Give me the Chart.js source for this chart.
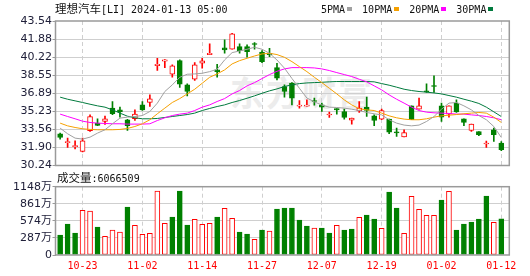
<!DOCTYPE html>
<html>
<head>
<meta charset="utf-8">
<script src="https://cdn.jsdelivr.net/npm/chart.js@4.4.1/dist/chart.umd.min.js"></script>
<style>
  html, body { margin:0; padding:0; background:#fff; }
  #wrap { position:relative; width:530px; height:276px; overflow:hidden; background:#fff; }
  canvas { position:absolute; left:0; }
  .txt { position:absolute; white-space:nowrap; color:#111; }
  .cjk { font-family:'Noto Sans CJK SC', sans-serif; }
  .mono { font-family:'DejaVu Sans Mono', monospace; }
  #legend { position:absolute; left:321px; top:2px; height:14px; display:flex; align-items:center; font:10px 'DejaVu Sans Mono', monospace; color:#111; }
  #legend .item { display:flex; align-items:center; margin-right:10px; }
  #legend .sw { width:5px; height:4px; margin-left:2px; }
</style>
</head>
<body>
<div id="wrap">
  <div class="txt cjk" id="wm" style="left:230px;top:72px;font-size:34px;font-weight:bold;color:#ececec;letter-spacing:2px;line-height:40px;">东方财富</div>
  <canvas id="priceChart" width="530" height="175" style="top:0;width:530px;height:175px"></canvas>
  <canvas id="volChart" width="530" height="101" style="top:175px;width:530px;height:101px"></canvas>
  <div class="txt" id="title" style="left:55px;top:1px;line-height:14px;"></div>
  <div id="legend"></div>
  <div class="txt" id="volTitle" style="left:57px;top:170px;line-height:14px;"></div>
</div>
<script>
// ---------- data ----------
const stockName = '理想汽车';
const ticker = '[LI]';
const stamp = '2024-01-13 05:00';
const volLabel = '成交量';
const lastVolume = 6066509;

const dates = ['10-18','10-19','10-20','10-23','10-24','10-25','10-26','10-27','10-30','10-31',
  '11-01','11-02','11-03','11-06','11-07','11-08','11-09','11-10','11-13','11-14',
  '11-15','11-16','11-17','11-20','11-21','11-22','11-24','11-27','11-28','11-29',
  '11-30','12-01','12-04','12-05','12-06','12-07','12-08','12-11','12-12','12-13',
  '12-14','12-15','12-18','12-19','12-20','12-21','12-22','12-26','12-27','12-28',
  '12-29','01-02','01-03','01-04','01-05','01-08','01-09','01-10','01-11','01-12'];
const xTickLabels = ['10-23','11-02','11-14','11-27','12-07','12-19','01-02','01-12'];

const open = [33.16,32.34,31.98,31.54,33.44,34.14,34.29,35.52,35.36,34.45,
  34.54,35.82,36.04,39.43,39.84,38.65,39.90,37.66,38.18,39.65,
  40.45,39.04,41.06,40.94,41.18,41.18,41.43,40.67,40.57,39.25,
  37.51,37.82,35.70,35.70,36.16,35.82,34.89,35.49,35.21,34.42,
  35.27,35.61,34.82,34.51,34.51,33.28,32.86,35.73,35.43,37.05,
  37.54,35.73,34.97,35.98,34.54,33.47,33.37,32.22,33.53,32.30];
const high = [33.22,32.77,32.52,32.77,34.91,34.54,34.79,36.13,35.61,34.50,
  35.36,36.13,36.74,40.11,39.98,39.50,39.96,37.75,39.71,40.11,
  41.43,39.56,41.80,42.41,41.43,41.34,41.55,40.81,41.03,39.65,
  37.66,37.87,36.22,36.28,36.44,35.98,35.15,35.49,35.43,34.60,
  36.13,36.53,34.91,35.43,34.51,33.68,33.53,35.73,36.44,37.75,
  38.49,35.98,35.73,36.28,34.54,34.05,33.37,32.49,33.68,32.45];
const low = [32.67,31.90,31.76,31.50,33.37,33.90,34.02,34.91,34.69,33.47,
  34.38,35.30,35.67,38.98,39.25,38.37,37.42,36.65,38.06,39.19,
  40.45,38.37,40.57,40.94,40.57,40.21,40.94,39.71,40.26,38.12,
  36.53,35.82,35.52,35.70,35.80,35.21,34.66,34.97,34.51,34.05,
  35.12,34.75,33.90,34.45,33.16,32.91,32.86,34.45,35.43,36.96,
  36.96,34.29,34.69,35.12,33.90,33.37,32.98,31.90,32.45,31.60];
const close = [32.82,32.38,32.02,32.52,34.75,33.92,34.54,35.00,35.18,33.90,
  34.97,35.36,36.38,39.56,39.96,39.41,37.73,37.05,39.50,39.87,
  40.57,38.88,40.88,42.35,40.81,40.72,41.38,39.80,40.45,38.28,
  37.05,36.44,35.75,35.72,36.13,35.61,34.92,35.36,34.66,34.60,
  35.52,35.30,34.38,35.30,33.30,33.24,33.27,34.45,35.73,37.02,
  37.51,34.69,35.73,35.18,34.20,34.05,33.07,32.26,33.07,31.69];
// volume in 万 shares
const volume = [336,521,370,751,740,471,314,420,387,807,
  499,348,365,1076,533,639,1076,504,600,516,
  533,639,785,617,387,353,264,420,403,773,
  790,790,588,487,454,454,370,499,420,437,
  633,672,605,448,1059,790,365,986,768,667,
  667,924,1071,420,521,555,605,992,550,607];

const ma5 = [33.68,33.16,32.76,32.67,32.85,33.22,33.53,34.08,34.60,34.69,
  34.75,34.84,35.21,35.98,37.05,37.66,38.36,38.64,38.67,38.73,
  38.88,39.10,39.96,40.63,40.78,40.94,41.12,40.94,40.57,39.95,
  39.20,38.25,37.35,36.45,36.10,35.80,35.61,35.58,35.52,35.42,
  35.30,35.12,35.00,34.90,34.45,34.14,33.96,33.89,33.96,34.29,
  34.75,35.42,35.98,36.04,35.73,35.36,34.84,34.45,33.83,32.82];
const ma10 = [34.14,33.89,33.74,33.62,33.56,33.53,33.53,33.53,33.56,33.65,
  33.83,34.08,34.45,35.00,35.52,36.04,36.40,36.83,37.26,37.81,
  38.36,38.67,39.04,39.59,39.89,40.11,40.32,40.51,40.57,40.45,
  40.20,39.80,39.34,38.88,38.36,37.87,37.35,36.83,36.28,35.82,
  35.46,35.36,35.30,35.06,34.81,34.63,34.51,34.45,34.45,34.54,
  34.69,34.81,34.87,34.93,35.00,35.06,35.12,35.06,34.69,34.20];
const ma20 = [34.97,34.75,34.54,34.32,34.20,34.14,34.11,34.08,34.08,34.05,
  34.05,34.05,34.08,34.38,34.63,34.84,34.97,35.06,35.30,35.61,
  35.82,36.13,36.40,36.83,37.14,37.57,37.87,38.24,38.61,38.91,
  39.13,39.25,39.25,39.25,39.22,39.13,38.98,38.79,38.61,38.43,
  38.18,37.94,37.57,37.20,36.74,36.34,35.98,35.61,35.30,35.15,
  35.09,35.06,35.03,34.97,34.97,34.90,34.84,34.75,34.63,34.45];
const ma30 = [36.53,36.34,36.19,36.04,35.88,35.73,35.61,35.36,35.06,34.78,
  34.63,34.54,34.54,34.57,34.66,34.75,34.84,34.93,35.06,35.30,
  35.49,35.67,35.82,36.04,36.22,36.43,36.65,36.89,37.11,37.29,
  37.51,37.66,37.78,37.84,37.87,37.90,37.94,37.97,37.97,37.97,
  37.97,37.97,37.94,37.78,37.63,37.45,37.26,37.14,37.05,36.99,
  36.92,36.83,36.68,36.53,36.34,36.16,35.95,35.61,35.18,34.75];

const priceTicks = [30.24,31.90,33.56,35.23,36.89,38.55,40.22,41.88,43.54];
const volumeTicks = [0,287,574,861,1148];
const maNames = ['5PMA','10PMA','20PMA','30PMA'];
const maColors = ['#a0a0a0','#f5a000','#ff00ff','#007a3d'];

// ---------- derived ----------
const RED = '#ff0000', GREEN = '#008000';
const N = dates.length;
const tickIdx = xTickLabels.map(l => dates.indexOf(l));
const xy = arr => arr.map((v, i) => ({x: i, y: v}));
const up = close.map((c, i) => c >= open[i]);
const candleColor = up.map(u => u ? RED : GREEN);
const bodyFill = up.map(u => u ? '#ffffff' : GREEN);
const volUp = close.map((c, i) => i === 0 ? c >= open[0] : c >= close[i - 1]);
const volColor = volUp.map(u => u ? RED : GREEN);
const volFill = volUp.map(u => u ? '#ffffff' : GREEN);

// header texts
document.getElementById('title').innerHTML =
  '<span class="cjk" style="font-size:11.5px">' + stockName + '</span>' +
  '<span class="mono" style="font-size:10px">' + ticker + ' ' + stamp + '</span>';
document.getElementById('volTitle').innerHTML =
  '<span class="cjk" style="font-size:11.5px">' + volLabel + '</span>' +
  '<span class="mono" style="font-size:10px">:' + lastVolume + '</span>';
const lg = document.getElementById('legend');
maNames.forEach((n, k) => {
  const it = document.createElement('div'); it.className = 'item';
  it.innerHTML = '<span>' + n + '</span><span class="sw" style="background:' + maColors[k] + '"></span>';
  lg.appendChild(it);
});

// ---------- layout constants ----------
const X_MIN = -0.62, X_MAX = 60.07;
const AXIS_W = 55.5;
const GRID = '#cfcfcf';
const FRAME = '#9a9a9a';

const framePlugin = {
  id: 'frame',
  afterDraw(chart) {
    const {ctx, chartArea: a} = chart;
    ctx.save();
    ctx.strokeStyle = FRAME; ctx.lineWidth = 1.5;
    ctx.strokeRect(a.left, a.top, a.right - a.left, a.bottom - a.top);
    ctx.restore();
  }
};

const xScaleBase = (showLabels) => ({
  type: 'linear', min: X_MIN, max: X_MAX, offset: false,
  afterBuildTicks: s => { s.ticks = tickIdx.map(v => ({value: v})); },
  grid: { offset: false, color: GRID, lineWidth: 1, drawTicks: false },
  border: { display: false, dash: [4, 3] },
  ticks: showLabels ? {
    autoSkip: false, maxRotation: 0, padding: 5, color: RED,
    font: { family: "'DejaVu Sans Mono', monospace", size: 10 },
    callback: v => dates[v]
  } : { display: false },
  afterFit: s => { s.height = showLabels ? 21 : 0; }
});

const lineDs = (arr, k) => ({
  type: 'line', data: xy(arr), borderColor: maColors[k], borderWidth: 1,
  pointRadius: 0, tension: 0, order: k, fill: false
});

new Chart(document.getElementById('priceChart'), {
  type: 'bar',
  data: {
    datasets: [
      lineDs(ma5, 0), lineDs(ma10, 1), lineDs(ma20, 2), lineDs(ma30, 3),
      { type: 'bar', data: open.map((o, i) => ({x: i, y: [o, close[i]]})),
        backgroundColor: bodyFill, borderColor: candleColor, borderWidth: 1,
        borderSkipped: false, barThickness: 5, grouped: false, minBarLength: 1, order: 10 },
      { type: 'bar', data: low.map((l, i) => ({x: i, y: [l, high[i]]})),
        backgroundColor: candleColor, borderWidth: 0, barThickness: 1,
        grouped: false, minBarLength: 1, order: 11 }
    ]
  },
  options: {
    responsive: false, animation: false, devicePixelRatio: 1, events: [],
    layout: { padding: { top: 21, right: 530 - 509.3, bottom: 9.5, left: 0 } },
    plugins: { legend: { display: false }, tooltip: { enabled: false } },
    scales: {
      x: xScaleBase(false),
      y: {
        min: priceTicks[0], max: priceTicks[priceTicks.length - 1],
        afterBuildTicks: s => { s.ticks = priceTicks.map(v => ({value: v})); },
        ticks: { callback: v => v.toFixed(2), color: '#20203a', padding: 0.5,
                 font: { family: "'DejaVu Sans', sans-serif", size: 11 } },
        grid: { color: c => (c.index === 0 || c.index === priceTicks.length - 1) ? 'rgba(0,0,0,0)' : GRID,
                tickColor: FRAME, tickLength: 3, drawTicks: true },
        border: { display: false },
        afterFit: s => { s.width = AXIS_W; }
      }
    }
  },
  plugins: [framePlugin]
});

new Chart(document.getElementById('volChart'), {
  type: 'bar',
  data: {
    datasets: [{
      data: xy(volume), backgroundColor: volFill, borderColor: volColor, borderWidth: 1,
      borderSkipped: false, barThickness: 5, grouped: false
    }]
  },
  options: {
    responsive: false, animation: false, devicePixelRatio: 1, events: [],
    layout: { padding: { top: 11.7, right: 530 - 509.3, bottom: 0, left: 0 } },
    plugins: { legend: { display: false }, tooltip: { enabled: false } },
    scales: {
      x: xScaleBase(true),
      y: {
        min: 0, max: volumeTicks[volumeTicks.length - 1],
        afterBuildTicks: s => { s.ticks = volumeTicks.map(v => ({value: v})); },
        ticks: { callback: v => v === 0 ? '0' : v + '万', color: '#20203a', padding: 0.5,
                 font: { family: "'DejaVu Sans', 'Noto Sans CJK SC', sans-serif", size: 11 } },
        grid: { color: c => (c.index === 0 || c.index === volumeTicks.length - 1) ? 'rgba(0,0,0,0)' : GRID,
                tickColor: FRAME, tickLength: 3, drawTicks: true },
        border: { display: false },
        afterFit: s => { s.width = AXIS_W; }
      }
    }
  },
  plugins: [framePlugin]
});
</script>
</body>
</html>
